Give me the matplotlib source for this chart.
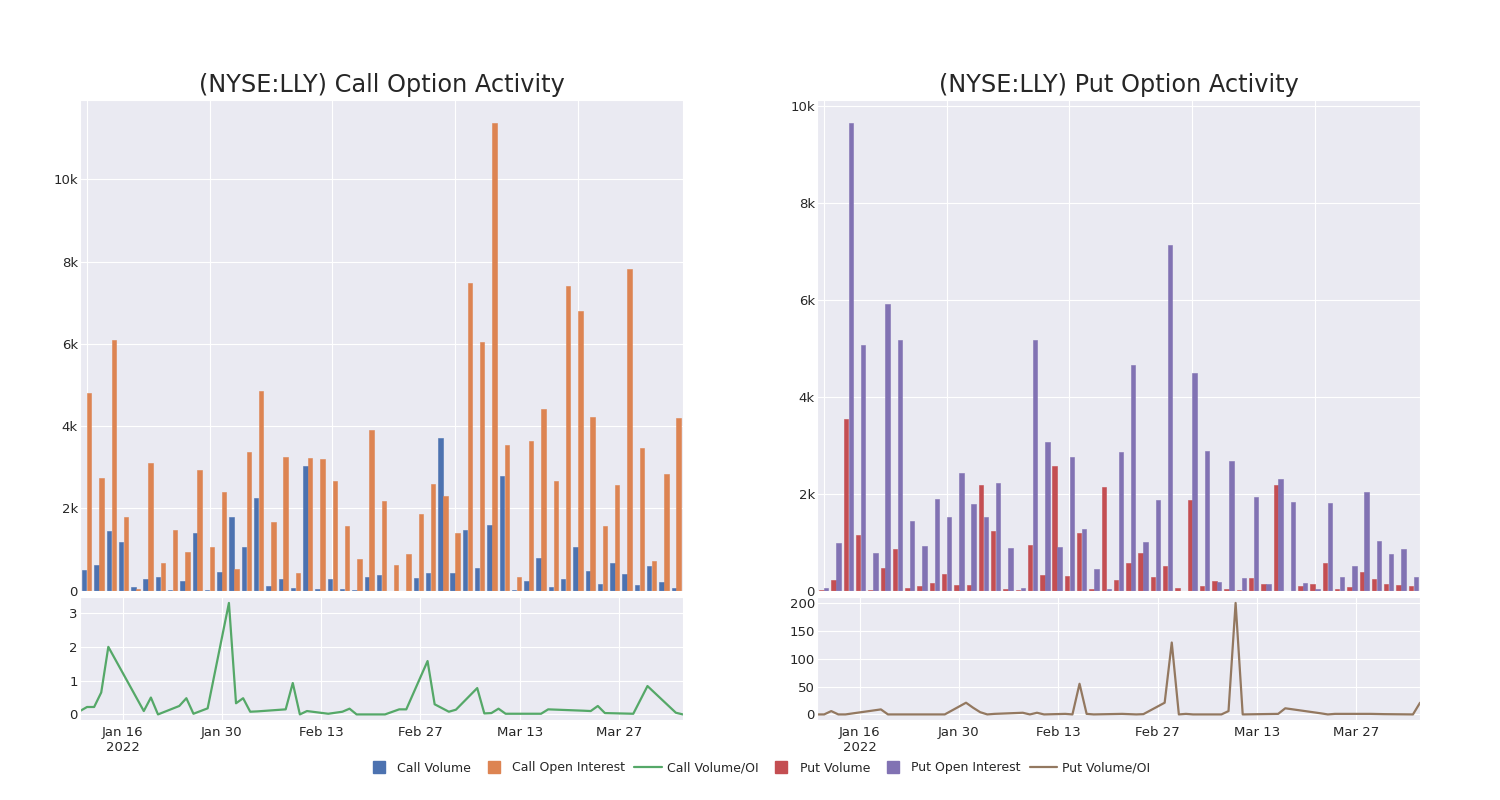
import matplotlib
matplotlib.use('Agg')
import matplotlib.pyplot as plt
import seaborn as sns
import numpy as np
import pandas as pd
from matplotlib.ticker import FuncFormatter, FixedLocator
from matplotlib.lines import Line2D

dates = pd.to_datetime([
    '2022-01-10', '2022-01-11', '2022-01-12', '2022-01-13', '2022-01-14',
    '2022-01-19', '2022-01-20', '2022-01-21', '2022-01-24', '2022-01-25',
    '2022-01-26', '2022-01-28', '2022-01-31', '2022-02-01', '2022-02-02',
    '2022-02-03', '2022-02-04', '2022-02-08', '2022-02-09', '2022-02-10',
    '2022-02-11', '2022-02-14', '2022-02-15', '2022-02-16', '2022-02-17',
    '2022-02-18', '2022-02-22', '2022-02-24', '2022-02-25', '2022-02-28',
    '2022-03-01', '2022-03-02', '2022-03-03', '2022-03-04', '2022-03-07',
    '2022-03-08', '2022-03-09', '2022-03-10', '2022-03-11', '2022-03-16',
    '2022-03-17', '2022-03-22', '2022-03-23', '2022-03-24', '2022-03-25',
    '2022-03-29', '2022-03-31', '2022-04-04', '2022-04-05'])

call_volume = [490, 620, 1460, 1190, 100, 280, 340, 20, 240, 1400,
               20, 450, 1790, 1060, 2260, 120, 280, 60, 3020, 50,
               290, 30, 20, 330, 370, 0, 0, 300, 440, 3710,
               430, 1480, 560, 1600, 2780, 20, 240, 800, 100, 280,
               1050, 480, 160, 670, 410, 130, 610, 200, 60]
call_oi = [4800, 2750, 6100, 1790, 40, 3110, 680, 1480, 930, 2930,
           1050, 2400, 530, 3370, 4850, 1660, 3250, 430, 3230, 3190,
           2670, 1580, 770, 3900, 2190, 620, 880, 1870, 2590, 2310,
           1390, 7480, 6050, 11360, 3540, 340, 3650, 4410, 2670, 7400,
           6790, 4220, 1570, 2560, 7810, 3460, 720, 2840, 4200]
call_ratio = [0.10, 0.22, 0.22, 0.65, 2.0, 0.10, 0.50, 0.0, 0.25, 0.48,
              0.02, 0.18, 3.30, 0.33, 0.48, 0.08, 0.09, 0.15, 0.93, 0.0,
              0.10, 0.02, 0.05, 0.08, 0.17, 0.0, 0.0, 0.15, 0.15, 1.58,
              0.30, 0.19, 0.08, 0.14, 0.78, 0.03, 0.04, 0.17, 0.02, 0.02,
              0.15, 0.11, 0.10, 0.25, 0.04, 0.02, 0.84, 0.05, 0.0]

put_volume = [10, 230, 3540, 1140, 20, 470, 860, 50, 90, 160,
              350, 120, 120, 2190, 1230, 30, 20, 950, 320, 2570,
              300, 1200, 30, 2150, 220, 580, 770, 290, 510, 50,
              1880, 100, 190, 30, 10, 260, 140, 2190, 0, 100,
              140, 580, 30, 70, 380, 250, 130, 120, 90]
put_oi = [60, 980, 9650, 5080, 770, 5920, 5170, 1440, 920, 1890,
          1530, 2420, 1780, 1520, 2230, 880, 60, 5170, 3070, 900,
          2750, 1280, 440, 30, 2860, 4660, 1010, 1880, 7130, 0,
          4490, 2880, 180, 2680, 260, 1940, 130, 2310, 1830, 150,
          30, 1810, 280, 510, 2040, 1030, 750, 870, 280]
put_ratio = [0, 0, 6, 0, 0, 9, 0, 0, 0, 0,
             0, 0, 21, 12, 4, 0, 1, 3, 0, 3,
             0, 1, 0, 55, 1, 0, 1, 0, 0.5, 21,
             129, 0, 1, 0, 0, 0, 6, 200, 0, 1,
             11, 2, 0, 1, 1, 1, 0.5, 0, 21]

tick_dates = pd.to_datetime(['2022-01-16', '2022-01-30', '2022-02-13',
                             '2022-02-27', '2022-03-13', '2022-03-27'])
tick_labels = ['Jan 16\n2022', 'Jan 30', 'Feb 13', 'Feb 27', 'Mar 13', 'Mar 27']

sns.set_style('darkgrid')
plt.rcParams['font.family'] = ['DejaVu Sans']

pal = sns.color_palette('deep')
c_blue, c_orange, c_green, c_red, c_purple, c_brown = pal[0], pal[1], pal[2], pal[3], pal[4], pal[5]

fig = plt.figure(figsize=(15, 8), dpi=100)

def kfmt(v, pos):
    if v == 0:
        return '0'
    return f'{v/1000:g}k'

def make_panel(x0, title, vol, oi, ratio, cv, co, cr):
    ax_top = fig.add_axes([x0, 0.2617, 0.402, 0.6133])
    ax_bot = fig.add_axes([x0, 0.1, 0.402, 0.1533])
    n = len(vol)
    idx = np.arange(n)
    ax_top.bar(idx - 0.2, vol, width=0.36, color=cv, edgecolor=cv, linewidth=0.4)
    ax_top.bar(idx + 0.2, oi, width=0.36, color=co, edgecolor=co, linewidth=0.4)
    ax_top.set_xlim(-0.55, n - 0.45)
    ax_top.set_ylim(0, max(max(vol), max(oi)) * 1.05)
    ax_top.xaxis.set_major_locator(FixedLocator([0, 10, 20, 30, 40]))
    ax_top.set_xticklabels([])
    ax_top.tick_params(axis='x', length=0)
    ax_top.yaxis.set_major_formatter(FuncFormatter(kfmt))
    ax_top.tick_params(axis='y', labelsize=9.5, length=0, pad=1.5)
    ax_top.set_title(title, fontsize=17.3, pad=6)

    ax_bot.plot(dates, ratio, color=cr, linewidth=1.6)
    ax_bot.set_xlim(dates[0], dates[-1])
    ax_bot.set_xticks(tick_dates)
    ax_bot.set_xticklabels(tick_labels)
    ax_bot.tick_params(axis='x', labelsize=9.5, length=0, pad=4)
    ax_bot.tick_params(axis='y', labelsize=9.5, length=0, pad=1.5)
    return ax_top, ax_bot

lt, lb = make_panel(0.0533, '(NYSE:LLY) Call Option Activity',
                    call_volume, call_oi, call_ratio, c_blue, c_orange, c_green)
rt, rb = make_panel(0.5447, '(NYSE:LLY) Put Option Activity',
                    put_volume, put_oi, put_ratio, c_red, c_purple, c_brown)
rb.set_yticks([0, 50, 100, 150, 200])
lb.set_yticks([0, 1, 2, 3])

handles = [
    Line2D([], [], marker='s', linestyle='', color=c_blue, markersize=9),
    Line2D([], [], marker='s', linestyle='', color=c_orange, markersize=9),
    Line2D([], [], color=c_green, linewidth=1.6),
    Line2D([], [], marker='s', linestyle='', color=c_red, markersize=9),
    Line2D([], [], marker='s', linestyle='', color=c_purple, markersize=9),
    Line2D([], [], color=c_brown, linewidth=1.6),
]
labels = ['Call Volume', 'Call Open Interest', 'Call Volume/OI',
          'Put Volume', 'Put Open Interest', 'Put Volume/OI']
fig.legend(handles, labels, loc='center', bbox_to_anchor=(0.505, 0.04), ncol=6,
           frameon=False, fontsize=9, handlelength=2.2, columnspacing=0.7,
           handletextpad=0.4)

fig.savefig('out.png', dpi=100)
